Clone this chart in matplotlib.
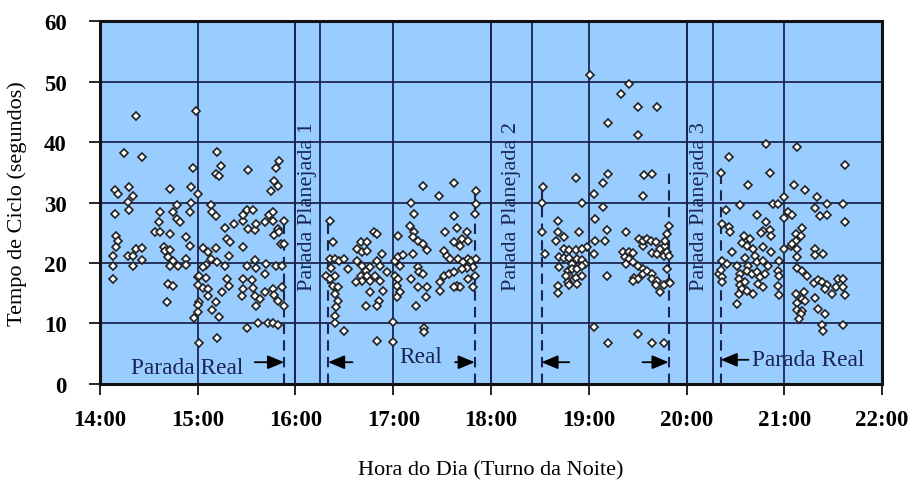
import matplotlib.pyplot as plt

# tempo de ciclo (s) por minuto apos as 14:00, lido ponto a ponto do grafico
minutos_1 = [22, 59, 15, 26, 57, 72, 74, 71, 73, 91, 110, 108, 107, 109, 105, 18, 9, 11, 20, 43,
             56, 60, 17, 18, 9, 47, 56, 55, 37, 36, 45, 47, 49, 34, 37, 43, 53, 55, 68, 69,
             71, 77, 82, 78, 80, 88, 90, 94, 88, 91, 95, 96, 101, 104, 106, 106, 109, 107, 110, 113,
             111, 10, 11, 10, 8, 8, 8, 17, 20, 22, 26, 26, 20, 39, 40, 43, 42, 45, 48, 43,
             42, 45, 41, 53, 53, 63, 66, 71, 68, 65, 63, 72, 77, 79, 88, 90, 95, 96, 102, 101,
             108, 112, 60, 61, 65, 60, 63, 66, 66, 61, 60, 71, 69, 60, 58, 73, 61, 72, 78, 79,
             75, 88, 93, 88, 87, 94, 95, 98, 96, 101, 106, 107, 109, 112, 113, 90, 97, 103, 106, 109,
             113]
tempo_1 = [44.3, 45.1, 38.2, 37.5, 35.7, 38.4, 36.0, 34.7, 34.4, 35.4, 36.9, 35.7, 33.6, 32.7, 31.9, 32.6, 32.1, 31.4, 31.1, 32.2,
           32.6, 31.4, 30.1, 28.8, 28.1, 29.6, 29.9, 28.4, 28.4, 26.8, 28.4, 27.3, 26.8, 25.1, 25.1, 24.8, 24.3, 22.8, 29.6, 28.4,
           27.8, 25.8, 26.4, 24.0, 23.5, 26.9, 28.8, 28.8, 27.9, 25.6, 25.5, 26.4, 26.8, 27.9, 28.4, 26.9, 25.6, 24.6, 25.1, 26.9,
           23.1, 24.5, 23.6, 22.6, 21.2, 19.5, 17.4, 21.2, 21.2, 22.3, 22.5, 20.5, 19.5, 22.6, 22.0, 22.1, 21.0, 20.3, 19.5, 19.5,
           16.5, 16.2, 13.6, 20.7, 19.7, 22.5, 21.8, 22.5, 20.7, 19.7, 19.3, 20.2, 19.5, 21.2, 22.6, 19.5, 20.5, 19.2, 19.8, 18.2,
           19.5, 19.5, 17.7, 17.9, 17.5, 16.4, 15.9, 15.7, 14.5, 13.6, 13.1, 13.6, 12.2, 11.9, 10.9, 11.1, 6.8, 7.6, 17.4, 16.2,
           15.2, 17.4, 17.2, 15.7, 14.5, 15.9, 14.5, 14.1, 12.9, 15.2, 15.7, 14.7, 13.7, 16.0, 12.9, 9.3, 10.1, 10.1, 10.1, 9.8,
           23.1]

minutos_2 = [198, 217, 208, 191, 193, 231, 231, 230, 141, 143, 141, 144, 147, 150, 139, 141, 144, 143, 146, 144,
             146, 145, 144, 144, 150, 142, 152, 160, 164, 158, 161, 164, 168, 170, 158, 161, 163, 166, 160, 164,
             161, 166, 170, 173, 172, 169, 172, 174, 176, 166, 157, 163, 171, 170, 170, 180, 180, 181, 183, 184,
             181, 183, 182, 184, 182, 183, 186, 192, 191, 190, 193, 192, 195, 198, 201, 195, 196, 198, 195, 201,
             200, 194, 199, 199, 211, 213, 215, 212, 219, 217, 217, 221, 222, 225, 226, 220, 223, 226, 228, 229,
             225, 222, 211, 214, 217, 209, 219, 221, 226, 229, 209, 217, 231, 230]
tempo_2 = [32.7, 33.2, 31.1, 29.9, 28.1, 31.9, 29.8, 28.1, 26.9, 23.5, 20.7, 20.7, 20.3, 20.7, 17.9, 17.4, 17.9, 16.2, 16.0, 14.9,
           13.7, 12.7, 11.2, 10.1, 8.8, 19.2, 19.0, 23.5, 23.5, 22.3, 21.8, 22.0, 25.1, 24.8, 20.3, 19.5, 18.7, 19.3, 17.9, 17.9,
           17.0, 17.0, 20.3, 21.5, 19.5, 17.9, 17.0, 15.4, 18.5, 15.2, 16.9, 12.9, 13.7, 12.9, 7.1, 10.2, 6.9, 20.3, 21.0, 19.5,
           17.9, 17.4, 16.2, 15.2, 14.4, 24.5, 21.3, 21.5, 17.4, 26.1, 25.1, 24.3, 23.6, 23.1, 22.1, 19.3, 18.5, 18.2, 16.0, 16.0,
           14.4, 12.9, 9.3, 8.6, 22.0, 21.2, 20.7, 25.1, 25.8, 27.8, 23.5, 22.8, 24.0, 25.1, 23.6, 20.7, 20.2, 20.7, 20.3, 19.3,
           19.2, 19.0, 17.9, 18.2, 18.5, 16.9, 16.2, 16.0, 17.4, 16.0, 15.4, 16.0, 20.7, 17.9]

minutos_3 = [301, 325, 320, 330, 342, 312, 330, 292, 312, 309, 334, 339, 303, 333, 272, 271, 271, 273, 296, 309,
             304, 281, 281, 280, 285, 294, 311, 304, 310, 299, 285, 288, 292, 296, 282, 285, 288, 293, 296, 298,
             290, 282, 287, 290, 293, 296, 288, 292, 296, 287, 288, 293, 281, 281, 303, 303, 312, 311, 323, 321,
             325, 327, 322, 325, 323, 327, 330, 333, 328, 330, 327, 333, 336, 339, 339, 342, 341, 344, 346, 349,
             350, 333, 331, 333, 336, 338, 341, 339, 342, 344, 347, 347, 348, 349, 346, 348, 349, 348, 330, 339,
             346, 286]
tempo_3 = [51.1, 49.6, 47.9, 45.8, 45.8, 43.1, 41.2, 34.1, 34.7, 33.2, 34.5, 34.7, 31.4, 31.1, 32.6, 29.9, 25.1, 21.5, 29.9, 29.3,
           27.3, 26.9, 25.1, 23.6, 24.3, 25.1, 25.5, 23.6, 23.6, 22.6, 22.3, 22.1, 22.1, 22.3, 21.0, 20.8, 20.8, 20.7, 20.5, 19.8,
           19.8, 19.3, 18.7, 19.0, 19.0, 19.5, 17.9, 17.5, 17.9, 16.9, 16.4, 16.5, 16.2, 15.0, 21.5, 9.4, 6.8, 17.9, 25.1, 21.8,
           21.8, 21.7, 21.0, 20.7, 19.8, 20.2, 19.5, 19.0, 17.5, 17.4, 17.0, 18.2, 18.7, 18.2, 17.4, 17.0, 16.4, 15.2, 16.4, 16.9,
           16.7, 22.8, 24.0, 23.6, 24.0, 23.6, 23.5, 21.7, 21.5, 22.3, 22.8, 23.6, 24.8, 26.1, 21.2, 21.8, 21.2, 19.0, 8.3, 6.8,
           6.8, 17.9]

minutos_4 = [409, 428, 386, 457, 411, 381, 398, 426, 433, 440, 420, 413, 416, 393, 446, 456, 384, 403, 422, 425,
             420, 442, 446, 439, 457, 409, 382, 386, 387, 407, 411, 406, 412, 431, 427, 430, 427, 395, 399, 394,
             397, 401, 407, 412, 420, 424, 425, 428, 428, 439, 439, 444, 388, 382, 385, 391, 396, 398, 402, 403,
             407, 410, 417, 380, 382, 381, 393, 397, 400, 403, 405, 408, 416, 417, 382, 392, 393, 396, 394, 397,
             401, 404, 392, 391, 416, 417, 428, 431, 434, 438, 441, 443, 446, 445, 449, 452, 456, 457, 453, 456,
             427, 432, 431, 433, 428, 428, 431, 430, 429, 439, 441, 445, 443, 444, 456, 407]
tempo_4 = [39.7, 39.2, 37.5, 36.2, 34.9, 34.9, 32.9, 32.9, 32.1, 30.9, 30.9, 29.8, 29.8, 29.6, 29.8, 29.8, 28.8, 27.9, 28.4, 27.9,
           27.4, 27.8, 27.9, 29.1, 26.8, 26.8, 26.4, 26.0, 25.1, 25.3, 25.5, 25.0, 24.5, 25.8, 24.8, 24.5, 23.6, 24.5, 24.0, 23.3,
           22.8, 22.3, 22.6, 21.8, 22.3, 22.8, 23.1, 22.3, 21.0, 22.3, 21.3, 21.5, 21.8, 20.3, 19.8, 19.5, 20.8, 19.5, 21.2, 20.2,
           20.3, 19.5, 20.3, 18.2, 17.7, 18.8, 18.2, 18.7, 18.2, 18.5, 17.7, 18.2, 18.7, 17.9, 16.9, 17.4, 16.4, 16.9, 15.7, 15.4,
           14.9, 16.5, 14.9, 13.2, 16.2, 14.7, 19.2, 18.7, 17.9, 16.7, 17.2, 16.9, 16.4, 15.7, 14.9, 16.0, 16.0, 14.7, 17.4, 17.4,
           14.9, 15.2, 14.1, 13.7, 13.4, 12.2, 12.1, 11.6, 10.7, 14.2, 12.4, 11.6, 9.8, 8.8, 9.8, 16.0]

horas = ["14:00", "15:00", "16:00", "17:00", "18:00", "19:00", "20:00", "21:00", "22:00"]
# paradas planejadas (inicio, fim) e marcas das paradas reais, em minutos apos 14:00
planejadas = [(120, 135), (240, 265), (360, 376)]
planejadas_nomes = ["Parada Planejada 1", "Parada Planejada 2", "Parada Planejada 3"]
paradas_reais = [113, 140, 230, 271, 349, 381]
reais_topo = [27.0, 27.0, 32.0, 32.6, 35.0, 35.0]

plt.rcParams["font.family"] = ["Liberation Serif", "DejaVu Serif"]
navy = "#1b2550"

fig = plt.figure(figsize=(9.14, 4.85), dpi=100)
ax = fig.add_axes([0.1094, 0.2062, 0.8556, 0.7484])
ax.set_facecolor("#99ccff")

for h in range(1, 8):
    ax.axvline(h * 60, color=navy, lw=1.3, zorder=1)
for v in range(10, 60, 10):
    ax.axhline(v, color=navy, lw=1.3, zorder=1)
for ini, fim in planejadas:
    ax.axvline(ini, color=navy, lw=1.3, zorder=1)
    ax.axvline(fim, color=navy, lw=1.3, zorder=1)

for x, topo in zip(paradas_reais, reais_topo):
    ax.plot([x, x], [0, topo], color=navy, lw=1.5, dashes=(5, 3), zorder=2)

for mins, tempos in [(minutos_1, tempo_1), (minutos_2, tempo_2), (minutos_3, tempo_3), (minutos_4, tempo_4)]:
    ax.plot(mins, tempos, linestyle="none", marker="D", markersize=4.5,
            markerfacecolor="white", markeredgecolor="#222222", markeredgewidth=1.2, zorder=3)

for (ini, fim), nome in zip(planejadas, planejadas_nomes):
    ax.text((ini + fim) / 2, 29.5, nome, rotation=90, ha="center", va="center",
            fontsize=16, color=navy, zorder=4)

seta = dict(arrowstyle="-|>,head_length=1.0,head_width=0.42", color="black", lw=1.3, shrinkA=0, shrinkB=0)
ax.annotate("", xy=(113, 3.6), xytext=(95, 3.6), arrowprops=seta)
ax.annotate("", xy=(140, 3.6), xytext=(155, 3.6), arrowprops=seta)
ax.annotate("", xy=(230, 3.6), xytext=(218, 3.6), arrowprops=seta)
ax.annotate("", xy=(271, 3.6), xytext=(288, 3.6), arrowprops=seta)
ax.annotate("", xy=(349, 3.6), xytext=(333, 3.6), arrowprops=seta)
ax.annotate("", xy=(381, 4.0), xytext=(398, 4.0), arrowprops=seta)
ax.text(19, 2.8, "Parada Real", fontsize=16.8, color=navy, va="center", ha="left", zorder=4)
ax.text(197, 4.6, "Real", fontsize=16.8, color=navy, va="center", ha="center", zorder=4)
ax.text(400, 4.1, "Parada Real", fontsize=16.8, color=navy, va="center", ha="left", zorder=4)

ax.set_xlim(0, 480)
ax.set_ylim(0, 60)
ax.set_xticks(range(0, 481, 60))
ax.set_xticklabels(horas)
ax.set_yticks(range(0, 61, 10))
for lab in ax.get_xticklabels() + ax.get_yticklabels():
    lab.set_fontweight("bold")
    lab.set_fontsize(16.5)
ax.tick_params(axis="x", direction="out", length=8, width=1.2, pad=10)
ax.tick_params(axis="y", direction="out", length=8, width=1.2, pad=16)
for s in ax.spines.values():
    s.set_linewidth(2.2)
    s.set_color("#111111")

ax.set_ylabel("Tempo de Ciclo (segundos)", fontsize=16, labelpad=12)
ax.set_xlabel("Hora do Dia (Turno da Noite)", fontsize=16, labelpad=22)

fig.savefig("out.png", dpi=100)
